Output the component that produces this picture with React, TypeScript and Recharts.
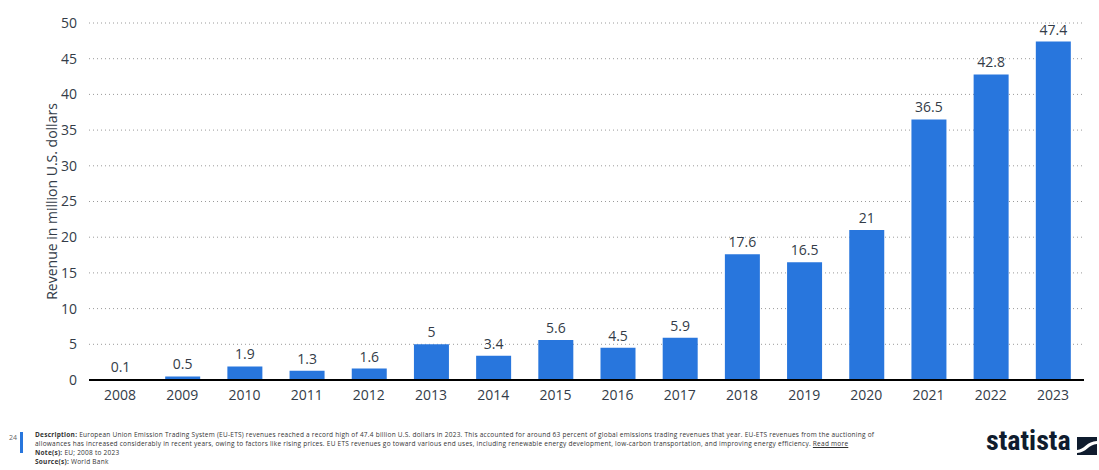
import React from 'react'
import { Bar, BarChart, CartesianGrid, LabelList, XAxis, YAxis } from 'recharts'

const years = ['2008', '2009', '2010', '2011', '2012', '2013', '2014', '2015', '2016', '2017', '2018', '2019', '2020', '2021', '2022', '2023']
const revenue = [0.1, 0.5, 1.9, 1.3, 1.6, 5, 3.4, 5.6, 4.5, 5.9, 17.6, 16.5, 21, 36.5, 42.8, 47.4]
const yTicks = [0, 5, 10, 15, 20, 25, 30, 35, 40, 45, 50]

const font = '"Open Sans", "Noto Sans", sans-serif'
const blue = '#2876dd'
const textColor = '#333c48'

export default function App() {
  const data = years.map((year, i) => ({ year, revenue: revenue[i] }))

  return (
    <div style={{ position: 'absolute', left: 0, top: 0, width: 1099, height: 470, background: '#fff', fontFamily: font }}>
      <BarChart
        width={1099}
        height={412}
        data={data}
        margin={{ top: 23, right: 15, left: 0, bottom: 0 }}
        barSize={35}
      >
        <CartesianGrid vertical={false} stroke='#9a9a9a' strokeDasharray='1 3' />
        <XAxis
          dataKey='year'
          height={32}
          axisLine={{ stroke: '#000', strokeWidth: 2 }}
          tickLine={false}
          tick={{ fill: textColor, fontSize: 14, fontFamily: font }}
          tickMargin={4}
        />
        <YAxis
          width={89}
          domain={[0, 50]}
          ticks={yTicks}
          axisLine={false}
          tickLine={false}
          tickMargin={6}
          tick={{ fill: textColor, fontSize: 14, fontFamily: font }}
          label={{
            value: 'Revenue in million U.S. dollars',
            angle: -90,
            position: 'center',
            dx: 8,
            style: { fill: textColor, fontSize: 14, fontFamily: font, textAnchor: 'middle' },
          }}
        />
        <Bar dataKey='revenue' fill={blue} isAnimationActive={false}>
          <LabelList dataKey='revenue' position='top' offset={7} style={{ fill: textColor, fontSize: 14, fontFamily: font }} />
        </Bar>
      </BarChart>

      <div style={{ position: 'absolute', left: 9, top: 433, fontSize: 7, lineHeight: '10px', color: '#666' }}>24</div>
      <div style={{ position: 'absolute', left: 20, top: 432, width: 3, height: 21, background: blue }} />
      <div style={{ position: 'absolute', left: 35, top: 430, fontSize: 6.5, lineHeight: '9px', letterSpacing: 0.25, color: '#333', width: 960, whiteSpace: 'nowrap' }}>
        <div>
          <b>Description:</b> European Union Emission Trading System (EU-ETS) revenues reached a record high of 47.4 billion U.S. dollars in 2023. This accounted for around 63 percent of global emissions trading revenues that year. EU-ETS revenues from the auctioning of
        </div>
        <div>
          allowances has increased considerably in recent years, owing to factors like rising prices. EU ETS revenues go toward various end uses, including renewable energy development, low-carbon transportation, and improving energy efficiency. <u>Read more</u>
        </div>
        <div><b>Note(s):</b> EU; 2008 to 2023</div>
        <div><b>Source(s):</b> World Bank</div>
      </div>

      <div style={{ position: 'absolute', left: 986, top: 424, fontSize: 28, lineHeight: '34px', fontWeight: 700, color: '#0f1c2e', fontFamily: '"Liberation Sans Narrow", "Roboto Condensed", sans-serif' }}>
        statista
      </div>
      <svg style={{ position: 'absolute', left: 1077, top: 437 }} width={20} height={18} viewBox='0 0 20 18'>
        <rect x={0} y={0} width={20} height={18} fill='#0f1c2e' />
        <path d='M0 13 C7 13 10 4 20 4 L20 7 C12 7 9 16 0 16 Z' fill='#fff' />
      </svg>
    </div>
  )
}
